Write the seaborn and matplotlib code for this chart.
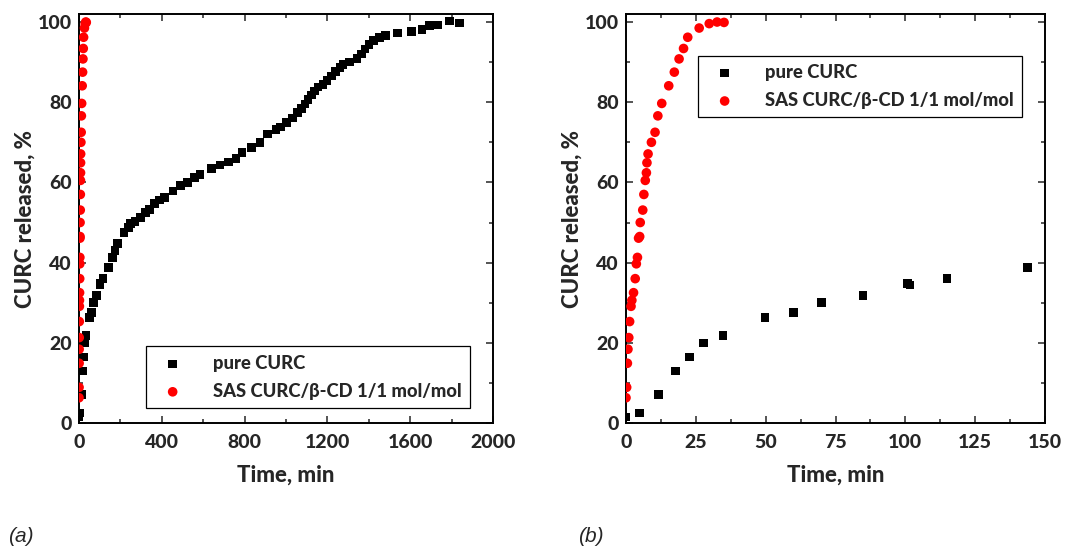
import numpy as np
import pandas as pd
import matplotlib
matplotlib.use('Agg')
import matplotlib.pyplot as plt
import seaborn as sns
from matplotlib.ticker import MultipleLocator

# pure curcumin release (min, %)
pure_time = [0, 4.8, 11.7, 17.8, 22.8, 27.8, 34.7, 49.8, 59.9, 69.9, 84.8, 100.8, 101.7, 114.9, 143.8,
             163, 174, 185, 217, 238, 249, 270, 298, 322, 340, 364, 388, 412, 455, 491, 523, 557, 584,
             640, 681, 721, 758, 788, 833, 874, 911, 951, 973, 1002, 1031, 1056, 1075, 1091, 1107, 1123,
             1139, 1155, 1179, 1199, 1220, 1240, 1260, 1276, 1308, 1344, 1365, 1381, 1400, 1424, 1453,
             1482, 1538, 1606, 1657, 1694, 1735, 1791, 1839]
pure_release = [1.5, 2.5, 7.1, 13.0, 16.5, 19.9, 21.8, 26.3, 27.6, 30.1, 31.8, 34.8, 34.4, 36.1, 38.8,
                41.3, 43.0, 44.8, 47.5, 48.8, 49.8, 50.2, 51.2, 52.5, 53.3, 54.7, 55.6, 56.2, 57.9, 59.3,
                60.0, 61.2, 62.0, 63.5, 64.3, 65.1, 65.9, 67.4, 68.7, 69.9, 72.1, 73.2, 73.8, 75.0, 76.1,
                77.4, 78.4, 79.6, 80.7, 81.8, 82.8, 83.8, 84.4, 85.4, 86.5, 87.6, 88.7, 89.4, 90.0, 90.9,
                92.0, 93.3, 94.4, 95.4, 96.2, 96.7, 97.3, 97.7, 98.1, 99.2, 99.3, 100.2, 99.8]

# SAS CURC/beta-CD coprecipitate release (min, %)
sas_time = [0, 0.24, 0.5, 0.7, 1.0, 1.3, 1.8, 2.1, 2.7, 3.3, 3.7, 4.1, 4.5, 4.9, 5.1, 6.0, 6.4, 6.9,
            7.3, 7.5, 7.9, 9.1, 10.4, 11.4, 12.8, 15.3, 17.3, 19.0, 20.6, 22.1, 26.2, 29.8, 32.6, 35.1]
sas_release = [6.3, 8.9, 14.9, 18.4, 21.3, 25.3, 29.1, 30.6, 32.5, 36.0, 39.7, 41.3, 46.1, 46.5, 50.0,
               53.1, 57.0, 60.5, 62.4, 64.9, 67.1, 70.0, 72.5, 76.6, 79.7, 84.1, 87.5, 90.8, 93.4, 96.2,
               98.5, 99.6, 100.0, 99.9]

label_pure = 'pure CURC'
label_sas = 'SAS CURC/β-CD 1/1 mol/mol'

pure = pd.DataFrame({'t': pure_time, 'r': pure_release})
sas = pd.DataFrame({'t': sas_time, 'r': sas_release})

sns.set_style('ticks')
plt.rcParams['font.family'] = ['Lato', 'DejaVu Sans']
plt.rcParams['font.weight'] = 900

fig = plt.figure(figsize=(10.78, 5.49), dpi=100)
ax_a = fig.add_axes([0.0733, 0.2295, 0.3840, 0.745])
ax_b = fig.add_axes([0.5807, 0.2295, 0.3887, 0.745])

panels = [(ax_a, 2000, 400, 200, (0.162, 0.037)),
          (ax_b, 150, 25, 12.5, (0.172, 0.748))]

for ax, xmax, xmaj, xmin, leg_pos in panels:
    sns.scatterplot(data=pure, x='t', y='r', ax=ax, marker='s', s=38, color='black',
                    edgecolor='none', label=label_pure, zorder=3)
    sns.scatterplot(data=sas, x='t', y='r', ax=ax, marker='o', s=48, color='#ff0000',
                    edgecolor='none', label=label_sas, zorder=4)
    ax.set_xlim(0, xmax)
    ax.set_ylim(0, 102)
    ax.xaxis.set_major_locator(MultipleLocator(xmaj))
    ax.xaxis.set_minor_locator(MultipleLocator(xmin))
    ax.yaxis.set_major_locator(MultipleLocator(20))
    ax.yaxis.set_minor_locator(MultipleLocator(10))
    ax.tick_params(which='both', direction='in', top=True, right=True, width=1.1, labelsize=14)
    ax.tick_params(axis='x', pad=8)
    ax.tick_params(axis='y', pad=5)
    ax.tick_params(which='major', length=5)
    ax.tick_params(which='minor', length=3)
    for lab in ax.get_xticklabels() + ax.get_yticklabels():
        lab.set_fontweight(900)
    for sp in ax.spines.values():
        sp.set_linewidth(1.4)
        sp.set_color('black')
    ax.set_xlabel('Time, min', fontsize=16, fontweight=900, labelpad=10)
    ax.set_ylabel('CURC released, %', fontsize=16, fontweight=900, labelpad=2)
    leg = ax.legend(loc='lower left', bbox_to_anchor=leg_pos, fontsize=13.2, frameon=True,
                    fancybox=False, edgecolor='black', framealpha=1, borderpad=0.45,
                    labelspacing=0.6, handletextpad=1.2, borderaxespad=0, markerscale=1.0)
    leg.get_frame().set_linewidth(0.9)
    for txt in leg.get_texts():
        txt.set_fontweight(900)

fig.text(0.007, 0.012, '(a)', fontsize=15, style='italic', fontweight='normal',
         family=['Liberation Sans', 'DejaVu Sans'])
fig.text(0.536, 0.012, '(b)', fontsize=15, style='italic', fontweight='normal',
         family=['Liberation Sans', 'DejaVu Sans'])

fig.savefig('out.png', dpi=100)
